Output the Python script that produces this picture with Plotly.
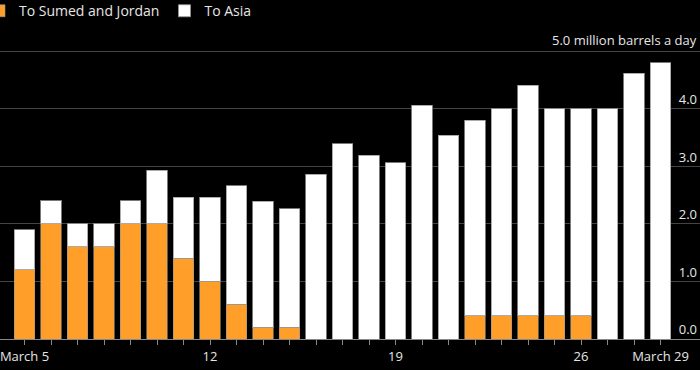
import plotly.graph_objects as go

dates = ["2020-03-%02d" % d for d in range(5, 30)]
tick_labels = ["March 5", "", "", "", "", "", "", "12", "", "", "", "", "", "", "19",
               "", "", "", "", "", "", "26", "", "", "March 29"]
sumed_jordan = [1.2, 2.0, 1.6, 1.6, 2.0, 2.0, 1.4, 1.0, 0.6, 0.2, 0.2, 0, 0, 0, 0,
                0, 0, 0.4, 0.4, 0.4, 0.4, 0.4, 0, 0, 0]
asia = [0.7, 0.4, 0.4, 0.4, 0.4, 0.93, 1.06, 1.46, 2.06, 2.19, 2.06, 2.86, 3.39, 3.19, 3.06,
        4.06, 3.54, 3.40, 3.60, 4.01, 3.60, 3.60, 4.0, 4.61, 4.80]
y_ticks = [0, 1, 2, 3, 4, 5]
y_tick_text = ["0.0", "1.0", "2.0", "3.0", "4.0", ""]
y_unit_value = 5
y_unit_label = "5.0 million barrels a day"
x_title = "March"

FONT = "Open Sans"
TXT = "#E6E6E6"
fig = go.Figure()
fig.add_trace(go.Bar(x=dates, y=sumed_jordan, name="To Sumed and Jordan",
                     marker=dict(color="#FF9F29", line=dict(color="rgba(150,150,150,0.6)", width=1))))
fig.add_trace(go.Bar(x=dates, y=asia, name="To Asia",
                     marker=dict(color="#FFFFFF", line=dict(color="rgba(150,150,150,0.8)", width=1))))

fig.update_layout(
    width=700, height=370,
    barmode="stack", bargap=0.23,
    paper_bgcolor="#000000", plot_bgcolor="#000000",
    margin=dict(l=0, r=0, t=30, b=31, autoexpand=False),
    font=dict(family=FONT, color=TXT, size=13),
    showlegend=True,
    legend=dict(orientation="h", x=-0.03, xanchor="left", y=1.061, yanchor="middle",
                font=dict(size=14, color=TXT), traceorder="normal",
                bgcolor="rgba(0,0,0,0)"),
    xaxis=dict(type="category", range=[-0.9245, 25.49], automargin=False,
               tickmode="array", tickvals=dates, ticktext=tick_labels,
               ticks="outside", ticklen=5, tickcolor="#888888",
               showline=True, linecolor="#888888", linewidth=1,
               showgrid=False, tickfont=dict(size=13, color=TXT)),
    yaxis=dict(range=[0, 5.365], side="right", tickmode="array", tickvals=y_ticks,
               ticktext=y_tick_text, ticklabelposition="inside top", automargin=False,
               showgrid=True, gridcolor="#444444", gridwidth=1, zeroline=False,
               showline=False, ticks="", tickfont=dict(size=13, color=TXT)),
    annotations=[
        dict(text=x_title, xref="paper", yref="paper", x=0.493, y=-0.087,
             xanchor="center", yanchor="top", showarrow=False,
             font=dict(size=13, color=TXT)),
        dict(text=y_unit_label, xref="paper", yref="y", x=1.0, y=y_unit_value,
             xanchor="right", yanchor="bottom", showarrow=False, xshift=-1,
             font=dict(size=13, color=TXT)),
    ],
)
fig.write_html("out.html", config={"displayModeBar": False},
               post_script="document.body.style.margin='0';document.body.style.background='#000';")
